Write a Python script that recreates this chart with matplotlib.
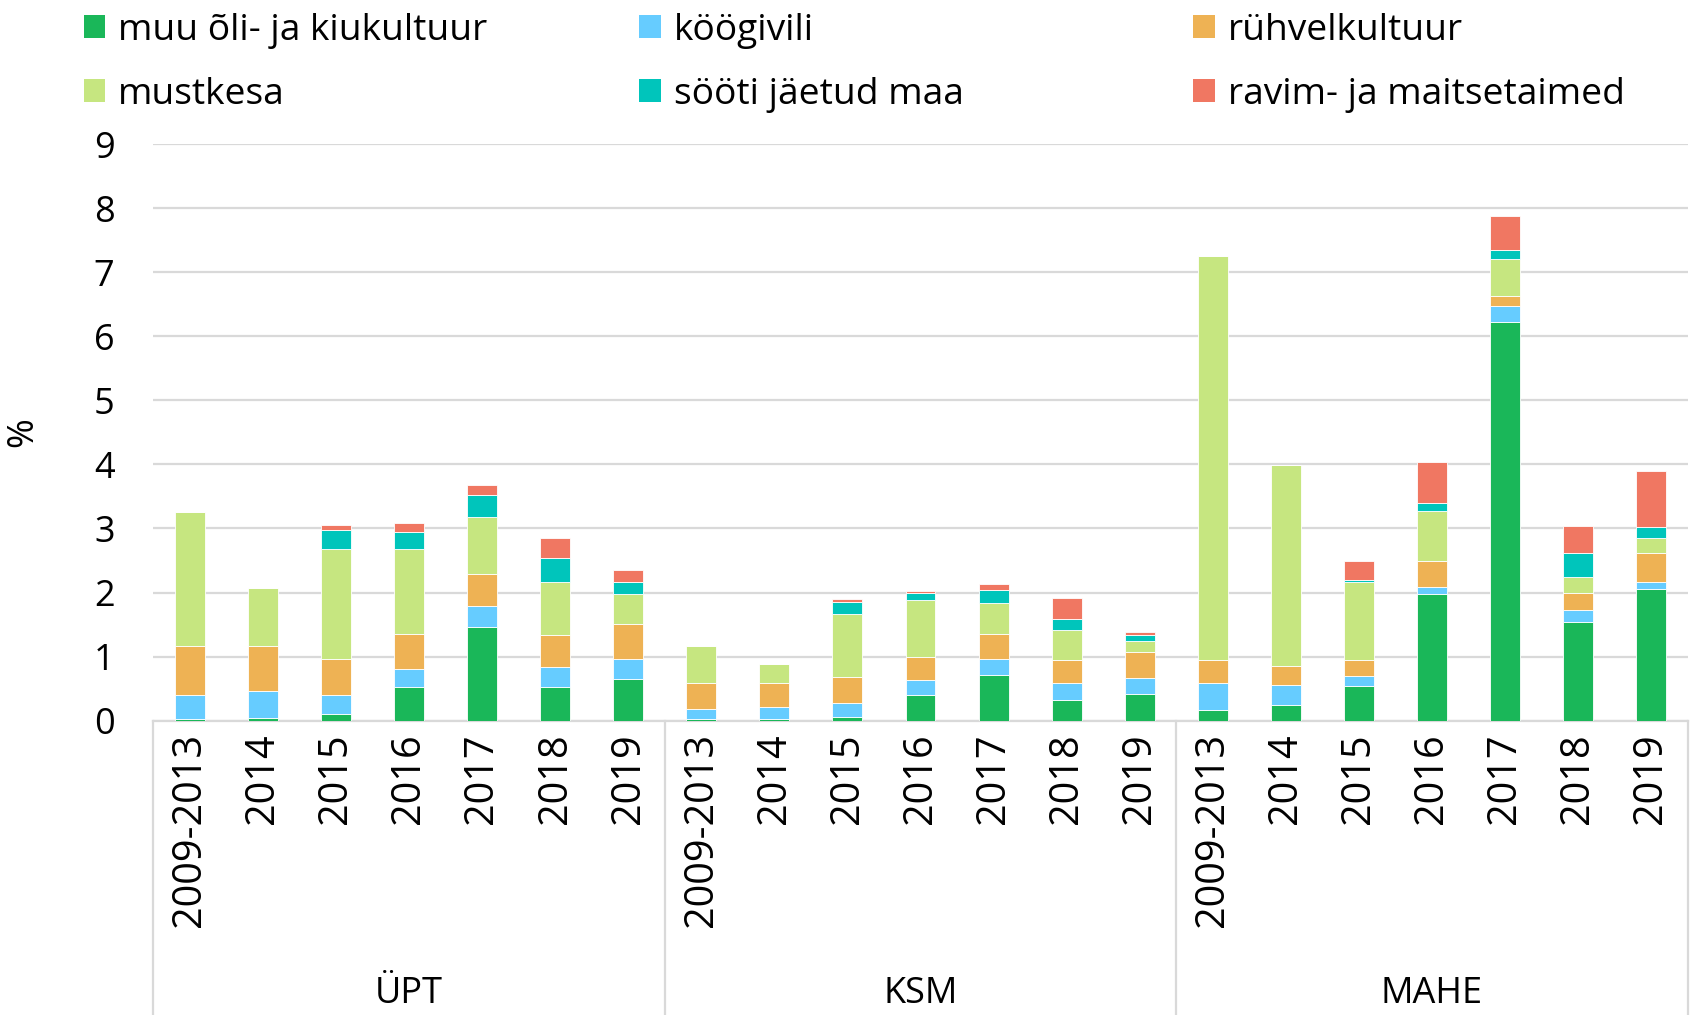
import numpy as np
import matplotlib.pyplot as plt
from matplotlib.patches import Patch
from matplotlib.transforms import blended_transform_factory

plt.rcParams['font.family'] = ['Open Sans', 'DejaVu Sans']

# Categories
groups = ['ÜPT', 'KSM', 'MAHE']
years = ['2009-2013', '2014', '2015', '2016', '2017', '2018', '2019']

series_names = ['muu õli- ja kiukultuur', 'köögivili', 'rühvelkultuur',
                'mustkesa', 'sööti jäetud maa', 'ravim- ja maitsetaimed']
series_colors = ['#1AB759', '#66CCFF', '#EEB254', '#C6E680', '#00C5BB',
                 '#F07762']

# Values (%), ÜPT years then KSM years then MAHE years
muu_oli = [0.02, 0.04, 0.10, 0.52, 1.46, 0.52, 0.65,
           0.03, 0.02, 0.06, 0.40, 0.72, 0.33, 0.42,
           0.17, 0.24, 0.54, 1.97, 6.23, 1.54, 2.06]
koogivili = [0.38, 0.43, 0.30, 0.29, 0.33, 0.31, 0.31,
             0.15, 0.20, 0.22, 0.23, 0.24, 0.25, 0.25,
             0.42, 0.32, 0.15, 0.12, 0.24, 0.19, 0.10]
ruhvel = [0.77, 0.69, 0.57, 0.55, 0.50, 0.50, 0.55,
          0.40, 0.37, 0.40, 0.37, 0.39, 0.37, 0.40,
          0.36, 0.29, 0.26, 0.40, 0.16, 0.27, 0.45]
mustkesa = [2.09, 0.91, 1.71, 1.32, 0.89, 0.83, 0.46,
            0.58, 0.29, 0.99, 0.88, 0.49, 0.46, 0.17,
            6.31, 3.14, 1.22, 0.78, 0.58, 0.25, 0.24]
sooti = [0.00, 0.00, 0.29, 0.27, 0.35, 0.38, 0.20,
         0.00, 0.00, 0.19, 0.12, 0.20, 0.18, 0.10,
         0.00, 0.00, 0.03, 0.13, 0.14, 0.36, 0.18]
ravim = [0.00, 0.00, 0.09, 0.13, 0.15, 0.31, 0.18,
         0.00, 0.00, 0.04, 0.02, 0.10, 0.33, 0.04,
         0.00, 0.00, 0.30, 0.64, 0.53, 0.43, 0.86]

series_values = [muu_oli, koogivili, ruhvel, mustkesa, sooti, ravim]

fig = plt.figure(figsize=(16.94, 10.15), dpi=100)
ax = fig.add_axes([0.0906, 0.290, 0.9056, 0.568])

x = np.arange(len(groups) * len(years))
bottom = np.zeros(len(x))
handles = []
for name, values, color in zip(series_names, series_values, series_colors):
    values = np.array(values)
    ax.bar(x, values, width=0.41, bottom=bottom, color=color,
           edgecolor='white', linewidth=0.6, zorder=3)
    bottom += values
    handles.append(Patch(facecolor=color, label=name))

ax.set_ylim(0, 9)
ax.set_xlim(-0.5, len(x) - 0.5)
ax.set_yticks(range(10))
ax.yaxis.grid(True, color='#D9D9D9', linewidth=1.6, zorder=0)
for side in ['top', 'right', 'left']:
    ax.spines[side].set_visible(False)
ax.spines['bottom'].set_color('#D9D9D9')
ax.spines['bottom'].set_linewidth(1.6)
ax.tick_params(axis='y', length=0, labelsize=26, pad=28)
ax.set_xticks(x)
ax.set_xticklabels(years * len(groups), rotation=90, fontsize=28.5)
ax.tick_params(axis='x', length=0, pad=9)
ax.set_ylabel('%', fontsize=26, labelpad=38)

# Group separators and group labels below the axis
trans = blended_transform_factory(ax.transData, ax.transAxes)
for k in range(len(groups) + 1):
    xs = k * len(years) - 0.5
    ax.plot([xs, xs], [0, -0.52], color='#D9D9D9', linewidth=1.6,
            transform=trans, clip_on=False)
for k, g in enumerate(groups):
    xc = k * len(years) + (len(years) - 1) / 2
    ax.text(xc, -0.475, g, transform=trans, ha='center', va='center',
            fontsize=26)

# Legend: three columns placed separately
col_x = [0.034, 0.362, 0.689]
for j in range(3):
    pair = [handles[j], handles[j + 3]]
    fig.legend(handles=pair, loc='upper left',
               bbox_to_anchor=(col_x[j], 1.013), frameon=False,
               fontsize=26.7, handlelength=0.58, handleheight=0.58,
               handletextpad=0.35, labelspacing=0.76, borderpad=0.2)

fig.savefig('out.png', dpi=100)
